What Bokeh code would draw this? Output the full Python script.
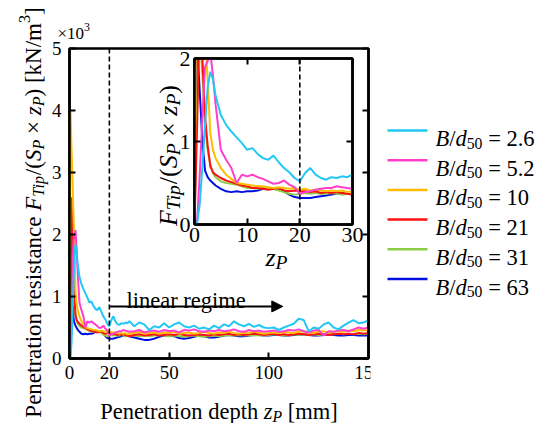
from math import pi
from bokeh.plotting import figure
from bokeh.models import (Range1d, FixedTicker, LinearAxis, Label, Span, Arrow,
                          NormalHead, GridBox, CustomJSTickFormatter, BoxAnnotation)
from bokeh.embed import file_html
from bokeh.resources import INLINE

# ---------------- data ----------------
z_mm = [0, 0.5, 1, 1.5, 2, 2.5, 3, 3.5, 4, 5, 6, 7, 8, 9, 10, 11, 12, 13, 14, 15, 16, 17,
        18, 19, 20, 21, 22, 23, 24, 25, 26, 27, 28, 29, 30,
        32.5, 35, 37.5, 40, 42.5, 45, 47.5, 50, 52.5, 55, 57.5, 60, 62.5, 65, 67.5, 70,
        72.5, 75, 77.5, 80, 82.5, 85, 87.5, 90, 92.5, 95, 97.5, 100, 102.5, 105, 107.5,
        110, 112.5, 115, 117.5, 120, 122.5, 125, 127.5, 130, 132.5, 135, 137.5, 140,
        142.5, 145, 147.5, 150]

r_2_6 = [0.0, 0.02, 0.25, 0.7, 1.2, 1.65, 1.84, 1.75, 1.55,
         1.32, 1.2, 1.12, 1.05, 0.98, 0.9, 0.92, 0.85, 0.8, 0.78, 0.83, 0.75, 0.68, 0.63,
         0.56, 0.52, 0.62, 0.68, 0.6, 0.56, 0.54, 0.57, 0.56, 0.58, 0.57, 0.6,
         0.52, 0.58, 0.55, 0.46, 0.52, 0.5, 0.57, 0.5, 0.55, 0.58, 0.52, 0.5, 0.53, 0.48,
         0.5, 0.47, 0.53, 0.49, 0.55, 0.52, 0.6, 0.55, 0.52, 0.56, 0.51, 0.54, 0.5, 0.49,
         0.5, 0.46, 0.5, 0.53, 0.56, 0.64, 0.62, 0.44, 0.5, 0.48, 0.55, 0.58, 0.5, 0.47,
         0.53, 0.58, 0.62, 0.57, 0.58, 0.62]
r_5_2 = [0.0, 0.05, 0.6, 1.3, 1.9, 1.97, 2.07, 1.8, 1.45,
         0.9, 0.78, 0.68, 0.5, 0.6, 0.58, 0.6, 0.57, 0.55, 0.52, 0.49, 0.5, 0.53, 0.48,
         0.45, 0.37, 0.39, 0.4, 0.42, 0.43, 0.44, 0.44, 0.46, 0.45, 0.44, 0.43,
         0.44, 0.46, 0.42, 0.44, 0.45, 0.43, 0.46, 0.44, 0.45, 0.42, 0.46, 0.45, 0.47, 0.44,
         0.43, 0.45, 0.44, 0.46, 0.44, 0.45, 0.47, 0.44, 0.43, 0.46, 0.44, 0.45, 0.43, 0.44,
         0.45, 0.43, 0.44, 0.46, 0.45, 0.47, 0.44, 0.42, 0.45, 0.46, 0.37, 0.44, 0.43, 0.45,
         0.46, 0.44, 0.47, 0.5, 0.48, 0.5]
r_10 = [0.0, 4.0, 3.4, 2.9, 2.3, 1.75, 1.1, 0.9, 0.8,
        0.68, 0.6, 0.55, 0.5, 0.49, 0.48, 0.47, 0.46, 0.46, 0.45, 0.44, 0.45, 0.44, 0.43,
        0.44, 0.42, 0.43, 0.41, 0.42, 0.41, 0.4, 0.41, 0.4, 0.41, 0.39, 0.4,
        0.41, 0.43, 0.4, 0.41, 0.42, 0.4, 0.42, 0.41, 0.43, 0.4, 0.41, 0.42, 0.4, 0.41,
        0.43, 0.41, 0.4, 0.42, 0.41, 0.43, 0.41, 0.4, 0.42, 0.41, 0.43, 0.42, 0.4, 0.41,
        0.42, 0.41, 0.43, 0.42, 0.41, 0.43, 0.44, 0.42, 0.41, 0.43, 0.44, 0.42, 0.43, 0.44,
        0.43, 0.45, 0.44, 0.46, 0.45, 0.46]
r_21 = [0.0, 1.2, 2.6, 2.0, 1.3, 0.95, 0.7, 0.63, 0.6,
        0.56, 0.53, 0.51, 0.49, 0.47, 0.46, 0.44, 0.44, 0.43, 0.42, 0.43, 0.44, 0.41, 0.4,
        0.41, 0.4, 0.4, 0.39, 0.4, 0.38, 0.39, 0.38, 0.39, 0.38, 0.37, 0.36,
        0.38, 0.39, 0.37, 0.38, 0.39, 0.37, 0.38, 0.39, 0.38, 0.4, 0.38, 0.37, 0.38, 0.39,
        0.38, 0.37, 0.39, 0.38, 0.39, 0.4, 0.38, 0.39, 0.38, 0.39, 0.4, 0.39, 0.38, 0.39,
        0.4, 0.38, 0.39, 0.38, 0.39, 0.4, 0.39, 0.38, 0.39, 0.4, 0.39, 0.38, 0.39, 0.4,
        0.39, 0.4, 0.39, 0.41, 0.4, 0.41]
r_31 = [0.0, 1.5, 2.3, 1.8, 1.2, 0.9, 0.73, 0.62, 0.57,
        0.52, 0.5, 0.49, 0.48, 0.46, 0.44, 0.44, 0.43, 0.44, 0.44, 0.43, 0.41, 0.39, 0.37,
        0.36, 0.37, 0.38, 0.37, 0.38, 0.37, 0.37, 0.38, 0.37, 0.36, 0.37, 0.37,
        0.37, 0.36, 0.37, 0.36, 0.37, 0.38, 0.37, 0.36, 0.37, 0.36, 0.35, 0.36, 0.37, 0.36,
        0.35, 0.36, 0.37, 0.36, 0.37, 0.38, 0.37, 0.38, 0.37, 0.38, 0.37, 0.38, 0.37, 0.38,
        0.39, 0.38, 0.37, 0.38, 0.39, 0.38, 0.39, 0.38, 0.39, 0.38, 0.39, 0.4, 0.39, 0.4,
        0.39, 0.4, 0.39, 0.4, 0.39, 0.4]
r_63 = [0.0, 2.2, 1.6, 1.0, 0.65, 0.57, 0.53, 0.5, 0.47,
        0.43, 0.4, 0.39, 0.4, 0.39, 0.4, 0.4, 0.41, 0.43, 0.44, 0.43, 0.42, 0.4, 0.36,
        0.33, 0.32, 0.32, 0.32, 0.33, 0.34, 0.35, 0.36, 0.37, 0.38, 0.37, 0.36,
        0.34, 0.32, 0.3, 0.3, 0.32, 0.35, 0.37, 0.37, 0.36, 0.33, 0.32, 0.33, 0.35, 0.37,
        0.36, 0.34, 0.34, 0.35, 0.37, 0.38, 0.37, 0.36, 0.36, 0.37, 0.38, 0.38, 0.37, 0.37,
        0.38, 0.38, 0.37, 0.37, 0.38, 0.38, 0.39, 0.38, 0.37, 0.37, 0.38, 0.39, 0.38, 0.37,
        0.37, 0.38, 0.38, 0.37, 0.37, 0.37]

ratio_labels = ["2.6", "5.2", "10", "21", "31", "63"]
series = [r_2_6, r_5_2, r_10, r_21, r_31, r_63]
colors = ["#22c8f5", "#ff3fcc", "#ffbc00", "#ff1010", "#8dcc46", "#0010e0"]
draw_order = [5, 4, 3, 2, 1, 0]

main_x_ticks = [0, 20, 50, 100, 150]
main_y_ticks = [0, 1, 2, 3, 4, 5]
inset_x_ticks = [0, 10, 20, 30]
inset_y_ticks = [0, 1, 2]
linear_start = 20

# ---------------- geometry (page pixels) ----------------
FONT = "Liberation Serif"
W, H = 537, 423
ML, MR, MT, MB = 69, 368, 48, 358
IX0, IY0, IW, IH = 130, 36, 240, 244
IL, IR, IT, IB = 194, 352, 58, 224
LX0 = 370

ROMAN_W = {' ': 250, '(': 333, ')': 333, '/': 278, '.': 250, '=': 564, '[': 333, ']': 333,
           '×': 564, 'B': 667, 'F': 556, 'N': 722, 'P': 556, 'S': 556, 'T': 611,
           'a': 444, 'c': 444, 'd': 500, 'e': 444, 'g': 500, 'h': 500, 'i': 278, 'k': 500,
           'l': 278, 'm': 778, 'n': 500, 'o': 500, 'p': 500, 'r': 333, 's': 389, 't': 278,
           'z': 444}
ITALIC_W = {' ': 250, '/': 278, 'B': 611, 'F': 611, 'P': 611, 'S': 500, 'T': 556, 'd': 500,
            'i': 278, 'p': 500, 'z': 389}


def text_width(s, size, italic):
    table = ITALIC_W if italic else ROMAN_W
    return sum(table.get(c, 500) for c in s) * size / 1000.0


def compose(fig, pieces, start, base, size, fx, fy, rotated=False, center=False, small=0.7):
    specs = []
    for txt, kind in pieces:
        italic = kind.startswith("i")
        s = size * small if ("sub" in kind or "sup" in kind) else size
        shift = size * 0.2 if "sub" in kind else (-size * 0.4 if "sup" in kind else 0.0)
        specs.append((txt, italic, s, shift, text_width(txt, s, italic)))
    total = sum(sp[4] for sp in specs)
    pos = -total / 2 if center else 0.0
    for txt, italic, s, shift, w in specs:
        body = txt.strip(" ")
        lead = text_width(txt[:len(txt) - len(txt.lstrip(" "))], s, italic)
        q = pos + lead
        if rotated:
            px, py, ang = base + shift, start - q, pi / 2
        else:
            px, py, ang = start + q, base + shift, 0.0
        if body:
            fig.add_layout(Label(x=fx(px), y=fy(py), text=body, angle=ang, text_font=FONT,
                                 text_font_style="italic" if italic else "normal",
                                 text_font_size=f"{s:.1f}px", text_color="black",
                                 text_baseline="alphabetic", text_align="left"))
        pos += w


def style_axis(ax, size, standoff, ticks):
    ax.ticker = FixedTicker(ticks=ticks)
    ax.axis_line_width = 2.5
    ax.axis_line_color = "black"
    ax.major_tick_in = 6
    ax.major_tick_out = 0
    ax.major_tick_line_width = 2
    ax.major_tick_line_color = "black"
    ax.minor_tick_line_color = None
    ax.major_label_text_font = FONT
    ax.major_label_text_font_size = f"{size}px"
    ax.major_label_text_color = "black"
    ax.major_label_standoff = standoff


def mirror_axis(fig, ticks, side):
    ax = LinearAxis(formatter=CustomJSTickFormatter(code="return ''"))
    style_axis(ax, 1, 0, ticks)
    fig.add_layout(ax, side)


def no_align(fig):
    try:
        fig.frame_align = False
    except Exception:
        pass


# ---------------- main figure ----------------
p = figure(width=W, height=H, x_range=Range1d(0, 150), y_range=Range1d(0, 5),
           output_backend="svg", toolbar_location=None,
           min_border_left=ML, min_border_right=W - MR, min_border_top=MT,
           min_border_bottom=H - MB)
no_align(p)
p.grid.visible = False
p.outline_line_color = "black"
p.outline_line_width = 2.5
p.background_fill_color = "white"
p.border_fill_color = "white"
style_axis(p.xaxis[0], 19, 7, main_x_ticks)
style_axis(p.yaxis[0], 19, 8, main_y_ticks)
mirror_axis(p, main_y_ticks, "right")

for k in draw_order:
    p.line(z_mm, series[k], line_color=colors[k], line_width=2)

p.add_layout(Span(location=linear_start, dimension="height", line_color="black",
                  line_dash="5 3", line_width=1.6))
p.add_layout(Arrow(end=NormalHead(size=11, fill_color="black", line_color="black"),
                   x_start=linear_start, y_start=0.84, x_end=107, y_end=0.84,
                   line_width=2, line_color="black"))

fxp = lambda px: (px - ML) * 150.0 / (MR - ML)
fyp = lambda py: (MB - py) * 5.0 / (MB - MT)
compose(p, [("linear regime", "r")], 126, 300, 22.5, fxp, fyp)

# ---------------- inset ----------------
p2 = figure(width=IW, height=IH, x_range=Range1d(0, 30), y_range=Range1d(0, 2),
            output_backend="svg", toolbar_location=None,
            min_border_left=IL - IX0, min_border_right=IX0 + IW - IR,
            min_border_top=IT - IY0, min_border_bottom=IY0 + IH - IB)
no_align(p2)
p2.grid.visible = False
p2.outline_line_color = "black"
p2.outline_line_width = 2.5
p2.background_fill_color = "white"
p2.border_fill_color = None
style_axis(p2.xaxis[0], 22, 3, inset_x_ticks)
style_axis(p2.yaxis[0], 22, 4, inset_y_ticks)
mirror_axis(p2, inset_y_ticks, "right")
mirror_axis(p2, inset_x_ticks, "above")

for k in draw_order:
    p2.line(z_mm, series[k], line_color=colors[k], line_width=2)
p2.add_layout(Span(location=linear_start, dimension="height", line_color="black",
                   line_dash="5 3", line_width=1.6))

# ---------------- overlay for texts outside the frames and the legend ----------------
ov = figure(width=W, height=H, x_range=Range1d(0, W), y_range=Range1d(0, H),
            x_axis_type=None, y_axis_type=None, output_backend="svg",
            toolbar_location=None, min_border=0, title=None)
no_align(ov)
ov.outline_line_color = None
ov.background_fill_color = None
ov.border_fill_color = None
fx = lambda px: px
fy = lambda py: H - py

ov.add_layout(BoxAnnotation(left=LX0, right=W, bottom=0, top=H, fill_color="white",
                            fill_alpha=1.0, line_color=None, level="underlay"))
leg_y = [130 + 29.7 * i for i in range(len(ratio_labels))]
ov.segment(x0=[387] * len(leg_y), x1=[427] * len(leg_y), y0=[fy(v) for v in leg_y],
           y1=[fy(v) for v in leg_y], line_color=colors, line_width=2.5)
for i, lab in enumerate(ratio_labels):
    compose(ov, [("B", "i"), ("/", "r"), ("d", "i"), ("50", "sub"), (" = " + lab, "r")],
            435, leg_y[i] + 8, 22.5, fx, fy)

compose(ov, [("×10", "r"), ("3", "sup")], 57, 33, 17, fx, fy)
compose(ov, [("Penetration depth ", "r"), ("z", "i"), ("P", "isub"), (" [mm]", "r")],
        (ML + MR) / 2, 411, 22.5, fx, fy, center=True)
compose(ov, [("Penetration resistance ", "r"), ("F", "i"), ("Tip", "isub"), ("/(", "r"),
             ("S", "i"), ("P", "isub"), (" × ", "r"), ("z", "i"), ("P", "isub"),
             (") [kN/m", "r"), ("3", "sup"), ("]", "r")],
        212, 33, 23, fx, fy, rotated=True, center=True)
compose(ov, [("F", "i"), ("Tip", "isub"), ("/(", "r"), ("S", "i"), ("P", "isub"),
             (" × ", "r"), ("z", "i"), ("P", "isub"), (")", "r")],
        155, 168, 26, fx, fy, rotated=True, center=True, small=0.75)
compose(ov, [("z", "i"), ("P", "isub")], 265, 257, 26, fx, fy, small=0.75)

p.styles = {"z-index": "1"}
p2.styles = {"z-index": "2"}
ov.styles = {"z-index": "3"}

grid = GridBox(children=[(p, 0, 0, 3, 3), (p2, 1, 1, 1, 1), (ov, 0, 0, 3, 3)],
               rows=[f"{IY0}px", f"{IH}px", f"{H - IY0 - IH}px"],
               cols=[f"{IX0}px", f"{IW}px", f"{W - IX0 - IW}px"])

open("out.html", "w").write(file_html(grid, INLINE))
